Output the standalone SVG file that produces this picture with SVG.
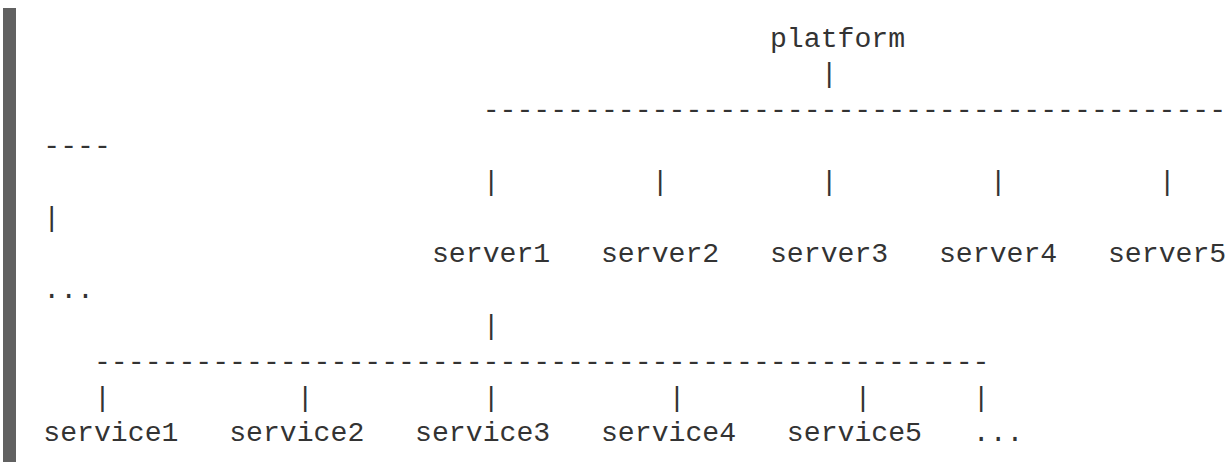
<svg xmlns="http://www.w3.org/2000/svg" width="1231" height="462" viewBox="0 0 1231 462">
  <style>
    .t { font-family: "Liberation Mono", "DejaVu Sans Mono", monospace; font-size: 28.16px; fill: #333333; white-space: pre; }
  </style>
  <rect x="0" y="0" width="1231" height="462" fill="#ffffff"/>
  <!-- left margin bar of the listing -->
  <rect x="3" y="8" width="13" height="454" fill="#616161"/>

  <!-- tree connectors drawn with ASCII characters -->
  <g id="connectors" class="t">
    <text x="820.65" y="82.4">|</text>
    <text x="482.65" y="118.3">--------------------------------------------</text>
    <text x="43.25" y="154.2">----</text>
    <text x="482.65" y="190.1">|</text>
    <text x="651.65" y="190.1">|</text>
    <text x="820.65" y="190.1">|</text>
    <text x="989.65" y="190.1">|</text>
    <text x="1158.65" y="190.1">|</text>
    <text x="43.25" y="226">|</text>
    <text x="482.65" y="333.7">|</text>
    <text x="93.95" y="369.6">-----------------------------------------------------</text>
    <text x="93.95" y="405.5">|</text>
    <text x="296.75" y="405.5">|</text>
    <text x="482.65" y="405.5">|</text>
    <text x="668.55" y="405.5">|</text>
    <text x="854.45" y="405.5">|</text>
    <text x="972.75" y="405.5">|</text>
  </g>

  <g id="platform" class="t"><text x="769.95" y="46.5">platform</text></g>

  <g id="server1" class="t"><text x="431.95" y="261.9">server1</text></g>
  <g id="server2" class="t"><text x="600.95" y="261.9">server2</text></g>
  <g id="server3" class="t"><text x="769.95" y="261.9">server3</text></g>
  <g id="server4" class="t"><text x="938.95" y="261.9">server4</text></g>
  <g id="server5" class="t"><text x="1107.95" y="261.9">server5</text></g>
  <g id="server-more" class="t"><text x="43.25" y="297.8">...</text></g>

  <g id="service1" class="t"><text x="43.25" y="441.4">service1</text></g>
  <g id="service2" class="t"><text x="229.15" y="441.4">service2</text></g>
  <g id="service3" class="t"><text x="415.05" y="441.4">service3</text></g>
  <g id="service4" class="t"><text x="600.95" y="441.4">service4</text></g>
  <g id="service5" class="t"><text x="786.85" y="441.4">service5</text></g>
  <g id="service-more" class="t"><text x="972.75" y="441.4">...</text></g>
</svg>
